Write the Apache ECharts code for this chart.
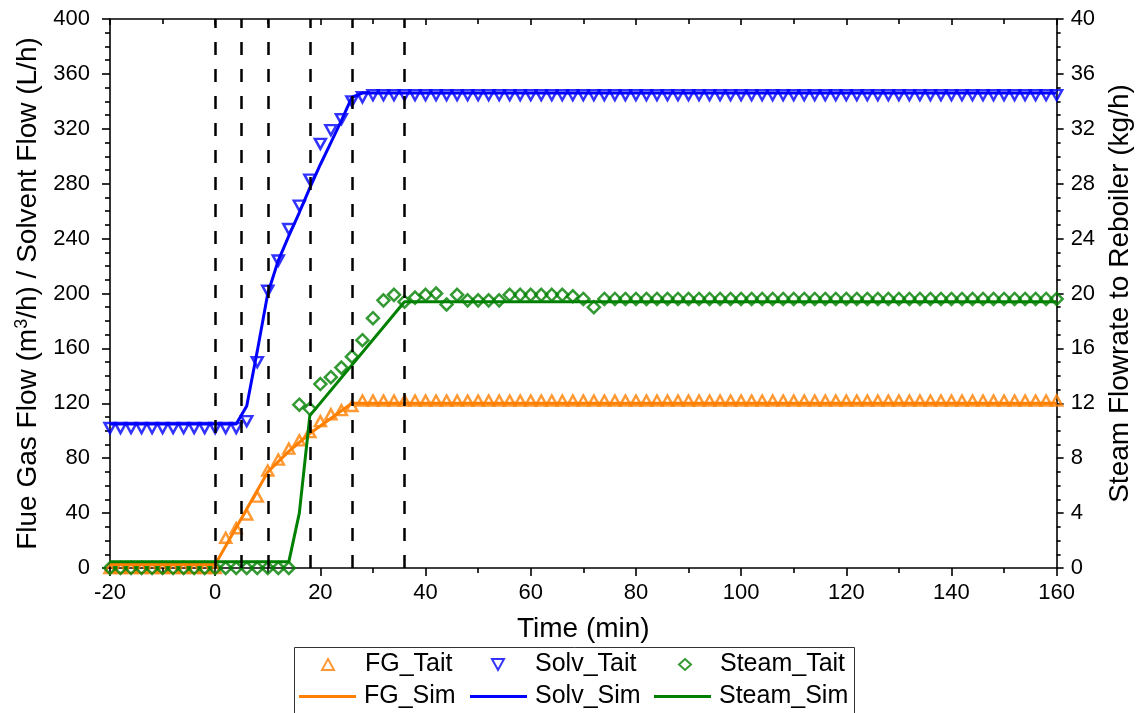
<!DOCTYPE html>
<html>
<head>
<meta charset="utf-8">
<script src="https://cdn.jsdelivr.net/npm/echarts@6/dist/echarts.min.js"></script>
<style>
  html, body { margin: 0; padding: 0; background: #fff; }
  #chart { width: 1142px; height: 713px; }
</style>
</head>
<body>
<div id="chart"></div>
<script>
// Measured sample times (min), one sample every 2 minutes
const taitTime = [
  -20, -18, -16, -14, -12, -10, -8, -6, -4, -2, 0,
  2, 4, 6, 8, 10, 12, 14, 16, 18, 20, 22,
  24, 26, 28, 30, 32, 34, 36, 38, 40, 42, 44,
  46, 48, 50, 52, 54, 56, 58, 60, 62, 64, 66,
  68, 70, 72, 74, 76, 78, 80, 82, 84, 86, 88,
  90, 92, 94, 96, 98, 100, 102, 104, 106, 108, 110,
  112, 114, 116, 118, 120, 122, 124, 126, 128, 130, 132,
  134, 136, 138, 140, 142, 144, 146, 148, 150, 152, 154,
  156, 158, 160
];

// Flue gas flow, measured (m3/h)
const fgTait = [
  0, 0, 0, 0, 0, 0, 0, 0, 0, 0, 0,
  22, 29, 39, 52, 71, 79, 87, 93, 99, 107, 112,
  115, 118, 122, 122, 122, 122, 122, 122, 122, 122, 122,
  122, 122, 122, 122, 122, 122, 122, 122, 122, 122, 122,
  122, 122, 122, 122, 122, 122, 122, 122, 122, 122, 122,
  122, 122, 122, 122, 122, 122, 122, 122, 122, 122, 122,
  122, 122, 122, 122, 122, 122, 122, 122, 122, 122, 122,
  122, 122, 122, 122, 122, 122, 122, 122, 122, 122, 122,
  122, 122, 122
];

// Solvent flow, measured (L/h)
const solvTait = [
  102, 102, 102, 102, 102, 102, 102, 102, 102, 102, 102,
  102, 102, 107, 150, 202, 224, 247, 264, 283, 309, 319,
  327, 340, 343, 344.5, 344.5, 344.5, 344.5, 344.5, 344.5, 344.5, 344.5,
  344.5, 344.5, 344.5, 344.5, 344.5, 344.5, 344.5, 344.5, 344.5, 344.5, 344.5,
  344.5, 344.5, 344.5, 344.5, 344.5, 344.5, 344.5, 344.5, 344.5, 344.5, 344.5,
  344.5, 344.5, 344.5, 344.5, 344.5, 344.5, 344.5, 344.5, 344.5, 344.5, 344.5,
  344.5, 344.5, 344.5, 344.5, 344.5, 344.5, 344.5, 344.5, 344.5, 344.5, 344.5,
  344.5, 344.5, 344.5, 344.5, 344.5, 344.5, 344.5, 344.5, 344.5, 344.5, 344.5,
  344.5, 344.5, 344.5
];

// Steam flow to reboiler, measured (kg/h)
const steamTait = [
  0, 0, 0, 0, 0, 0, 0, 0, 0, 0, 0,
  0, 0, 0, 0, 0, 0, 0, 11.9, 11.6, 13.4, 13.9,
  14.6, 15.4, 16.6, 18.2, 19.5, 19.9, 19.4, 19.7, 19.9, 20.0, 19.2,
  19.9, 19.5, 19.5, 19.5, 19.5, 19.9, 19.9, 19.9, 19.9, 19.9, 19.9,
  19.8, 19.6, 19.0, 19.6, 19.6, 19.6, 19.6, 19.6, 19.6, 19.6, 19.6,
  19.6, 19.6, 19.6, 19.6, 19.6, 19.6, 19.6, 19.6, 19.6, 19.6, 19.6,
  19.6, 19.6, 19.6, 19.6, 19.6, 19.6, 19.6, 19.6, 19.6, 19.6, 19.6,
  19.6, 19.6, 19.6, 19.6, 19.6, 19.6, 19.6, 19.6, 19.6, 19.6, 19.6,
  19.6, 19.6, 19.6
];

// Simulation results (breakpoints of the piecewise profiles)
const fgSimTime = [-20, 0, 10, 14, 18, 26, 160];
const fgSim     = [2.5, 2.5, 70, 85, 98, 120, 120];
const solvSimTime = [-20, 4, 6, 8, 10, 12, 14, 16, 18, 20, 22, 24, 26, 28, 160];
const solvSim     = [105, 105, 118, 158, 200, 224, 242, 259, 277, 294, 310, 326, 343, 346, 346];
const steamSimTime = [-20, 14, 16, 18, 36, 160];
const steamSim     = [0.45, 0.45, 4.0, 11.1, 19.4, 19.4];

// Step-change instants (min)
const stepTimes = [0, 5, 10, 18, 26, 36];

// Axis ticks
const xTicks = { min: -20, max: 160, interval: 20 };
const yLeftTicks = { min: 0, max: 400, interval: 40 };
const yRightTicks = { min: 0, max: 40, interval: 4 };

const FONT = 'Liberation Sans, Arial, sans-serif';
const ORANGE = '#FF8000', BLUE = '#0000FF', GREEN = '#008000';

const pairs = (xs, ys) => xs.map((x, i) => [x, ys[i]]);

const chart = echarts.init(document.getElementById('chart'), null, { renderer: 'canvas' });

const axisLine = { show: true, onZero: false, lineStyle: { color: '#000', width: 1.6 } };

// legend entry for a measured series: small marker centred in its column
const markerLegend = (name, cx, textX, top) => ({
  data: [name],
  left: cx - 6, top: top,
  orient: 'horizontal', padding: 0,
  itemWidth: 12, itemHeight: 11,
  selectedMode: false,
  textStyle: { fontSize: 25, fontFamily: FONT, color: '#000', padding: [0, 0, 0, textX - (cx + 6) - 5] }
});
// legend entry for a simulated series: plain line sample
const lineLegend = (name, color, left, top) => ({
  data: [{ name: name, icon: 'rect', itemStyle: { color: color } }],
  left: left, top: top,
  orient: 'horizontal', padding: 0,
  itemWidth: 57, itemHeight: 3,
  selectedMode: false,
  textStyle: { fontSize: 25, fontFamily: FONT, color: '#000', padding: [0, 0, 0, 3] }
});

const hollow = (c) => ({ color: 'rgba(0,0,0,0)', borderColor: c, borderWidth: 2.5 });
const DOWN_TRI = 'path://M0,0L20,0L10,18Z';

chart.setOption({
  animation: false,
  backgroundColor: '#fff',
  grid: { left: 110, right: 80, top: 19, bottom: 145, containLabel: false },
  xAxis: [
    {
      type: 'value', position: 'bottom',
      min: xTicks.min, max: xTicks.max, interval: xTicks.interval,
      axisLine: axisLine, splitLine: { show: false },
      axisTick: { show: true, inside: false, length: 8, lineStyle: { width: 1.6 } },
      minorTick: { show: true, splitNumber: 2, length: 5, lineStyle: { color: '#000', width: 1.6 } },
      axisLabel: { color: '#000', fontSize: 22, fontFamily: FONT, margin: 14 },
      name: 'Time (min)', nameLocation: 'middle', nameGap: 47,
      nameTextStyle: { fontSize: 28, fontFamily: FONT, color: '#000' }
    },
    {
      type: 'value', position: 'top',
      min: xTicks.min, max: xTicks.max, interval: xTicks.interval,
      axisLine: axisLine, splitLine: { show: false },
      axisTick: { show: true, inside: true, length: 6, lineStyle: { width: 1.6 } },
      minorTick: { show: true, splitNumber: 2, length: 5, lineStyle: { color: '#000', width: 1.6 } },
      axisLabel: { show: false }
    }
  ],
  yAxis: [
    {
      type: 'value', position: 'left',
      min: yLeftTicks.min, max: yLeftTicks.max, interval: yLeftTicks.interval,
      axisLine: axisLine, splitLine: { show: false },
      axisTick: { show: true, inside: false, length: 8, lineStyle: { width: 1.6 } },
      minorTick: { show: true, splitNumber: 4, length: 5, lineStyle: { color: '#000', width: 1.6 } },
      axisLabel: { color: '#000', fontSize: 22, fontFamily: FONT, margin: 20 },
      name: '{n|Flue Gas Flow (m}{s|3}{n|/h) / Solvent Flow (L/h)}',
      nameLocation: 'middle', nameGap: 64, nameRotate: 90,
      nameTextStyle: {
        fontSize: 28, fontFamily: FONT, color: '#000',
        rich: {
          n: { fontSize: 28, fontFamily: FONT, color: '#000', lineHeight: 30 },
          s: { fontSize: 18, fontFamily: FONT, color: '#000', verticalAlign: 'top', lineHeight: 30 }
        }
      }
    },
    {
      type: 'value', position: 'right',
      min: yRightTicks.min, max: yRightTicks.max, interval: yRightTicks.interval,
      axisLine: axisLine, splitLine: { show: false },
      axisTick: { show: true, inside: false, length: 7, lineStyle: { width: 1.6 } },
      minorTick: { show: true, splitNumber: 4, length: 4, lineStyle: { color: '#000', width: 1.6 } },
      axisLabel: { color: '#000', fontSize: 22, fontFamily: FONT, margin: 14 },
      name: 'Steam Flowrate to Reboiler (kg/h)',
      nameLocation: 'middle', nameGap: 48, nameRotate: 90,
      nameTextStyle: { fontSize: 28, fontFamily: FONT, color: '#000' }
    }
  ],
  legend: [
    markerLegend('FG_Tait', 327, 364, 652),
    markerLegend('Solv_Tait', 497, 534, 652),
    markerLegend('Steam_Tait', 684, 719, 652),
    lineLegend('FG_Sim', ORANGE, 299, 684),
    lineLegend('Solv_Sim', BLUE, 470, 684),
    lineLegend('Steam_Sim', GREEN, 654, 684)
  ],
  graphic: [{
    type: 'rect', silent: true,
    shape: { x: 294.5, y: 647.5, width: 560, height: 90 },
    style: { fill: 'none', stroke: '#333', lineWidth: 1 }
  }],
  series: [
    {
      name: 'FG_Tait', type: 'scatter', xAxisIndex: 0, yAxisIndex: 0,
      symbol: 'triangle', symbolSize: [11, 10],
      itemStyle: hollow(ORANGE),
      data: pairs(taitTime, fgTait), z: 2
    },
    {
      name: 'Solv_Tait', type: 'scatter', xAxisIndex: 0, yAxisIndex: 0,
      symbol: DOWN_TRI, symbolSize: [11, 10],
      itemStyle: hollow(BLUE),
      data: pairs(taitTime, solvTait), z: 2
    },
    {
      name: 'Steam_Tait', type: 'scatter', xAxisIndex: 0, yAxisIndex: 1,
      symbol: 'diamond', symbolSize: [12, 12],
      itemStyle: hollow(GREEN),
      data: pairs(taitTime, steamTait), z: 2
    },
    {
      name: 'FG_Sim', type: 'line', xAxisIndex: 0, yAxisIndex: 0,
      showSymbol: false, symbol: 'none',
      lineStyle: { color: ORANGE, width: 3 }, itemStyle: { color: ORANGE },
      data: pairs(fgSimTime, fgSim), z: 3,
      markLine: {
        silent: true, symbol: ['none', 'none'], animation: false,
        label: { show: false },
        lineStyle: { color: '#000', width: 2.5, type: [13, 14] },
        emphasis: { disabled: true },
        data: stepTimes.map(t => ({ xAxis: t }))
      }
    },
    {
      name: 'Solv_Sim', type: 'line', xAxisIndex: 0, yAxisIndex: 0,
      showSymbol: false, symbol: 'none',
      lineStyle: { color: BLUE, width: 3 }, itemStyle: { color: BLUE },
      data: pairs(solvSimTime, solvSim), z: 3
    },
    {
      name: 'Steam_Sim', type: 'line', xAxisIndex: 0, yAxisIndex: 1,
      showSymbol: false, symbol: 'none',
      lineStyle: { color: GREEN, width: 3 }, itemStyle: { color: GREEN },
      data: pairs(steamSimTime, steamSim), z: 3
    }
  ]
});
</script>
</body>
</html>
